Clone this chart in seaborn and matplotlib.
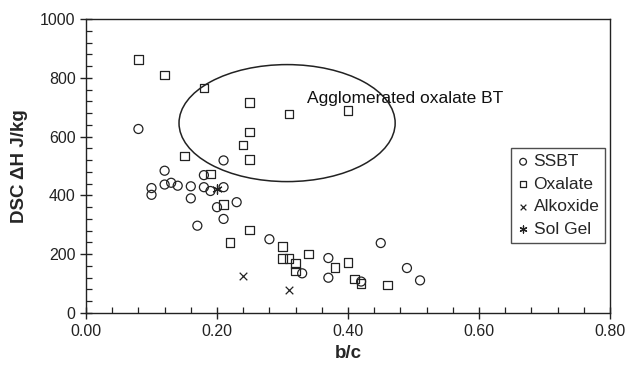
import matplotlib
matplotlib.use('Agg')
import matplotlib.pyplot as plt
import matplotlib.patches as mpatches
from matplotlib.ticker import MultipleLocator, FormatStrFormatter
import pandas as pd
import seaborn as sns

# values
ssbt_x = [0.08, 0.21, 0.12, 0.10, 0.10, 0.12, 0.13, 0.14, 0.16, 0.16, 0.18, 0.18, 0.19,
          0.21, 0.23, 0.20, 0.21, 0.17, 0.28, 0.37, 0.37, 0.33, 0.45, 0.42, 0.49, 0.51]
ssbt_y = [626, 519, 484, 425, 402, 437, 443, 433, 431, 390, 469, 428, 415,
          428, 377, 360, 320, 297, 251, 187, 120, 135, 238, 107, 153, 111]

oxalate_x = [0.08, 0.12, 0.18, 0.25, 0.25, 0.24, 0.25, 0.15, 0.19, 0.21, 0.31, 0.40, 0.25,
             0.22, 0.30, 0.30, 0.31, 0.32, 0.32, 0.34, 0.38, 0.40, 0.41, 0.42, 0.46]
oxalate_y = [862, 810, 766, 717, 616, 572, 523, 534, 473, 370, 677, 688, 283,
             240, 226, 186, 186, 169, 143, 201, 154, 172, 116, 101, 96]

alkoxide_x = [0.24, 0.31]
alkoxide_y = [125, 78]

solgel_x = [0.20]
solgel_y = [422]

methods = ['SSBT', 'Oxalate', 'Alkoxide', 'Sol Gel']

df = pd.concat([
    pd.DataFrame({'b/c': ssbt_x, 'dH': ssbt_y, 'Method': 'SSBT'}),
    pd.DataFrame({'b/c': oxalate_x, 'dH': oxalate_y, 'Method': 'Oxalate'}),
    pd.DataFrame({'b/c': alkoxide_x, 'dH': alkoxide_y, 'Method': 'Alkoxide'}),
    pd.DataFrame({'b/c': solgel_x, 'dH': solgel_y, 'Method': 'Sol Gel'}),
], ignore_index=True)

sns.set_style('ticks')
plt.rcParams['font.family'] = ['Liberation Sans', 'DejaVu Sans']

fig = plt.figure(figsize=(6.39, 3.66), dpi=100)
ax = fig.add_axes([0.1346, 0.1448, 0.82, 0.8032])

ink = '#222222'
styles = {
    'SSBT': dict(marker='o', s=42, facecolor='none', edgecolor=ink, linewidth=0.9),
    'Oxalate': dict(marker='s', s=38, facecolor='none', edgecolor=ink, linewidth=0.9),
    'Alkoxide': dict(marker='x', s=30, color=ink, linewidth=0.9),
    'Sol Gel': dict(marker=(6, 2, 0), s=45, color=ink, linewidth=0.9),
}
for m in methods:
    sns.scatterplot(data=df[df['Method'] == m], x='b/c', y='dH', ax=ax, label=m, **styles[m])

# ellipse around agglomerated oxalate samples
ax.add_patch(mpatches.Ellipse((0.307, 646), 0.330, 398, fill=False, edgecolor=ink, linewidth=1.1))
ax.text(0.337, 730, 'Agglomerated oxalate BT', fontsize=12.5, va='center', ha='left', color='#111111')

ax.set_xlim(0, 0.8)
ax.set_ylim(0, 1000)
ax.xaxis.set_major_locator(MultipleLocator(0.2))
ax.xaxis.set_minor_locator(MultipleLocator(0.04))
ax.yaxis.set_major_locator(MultipleLocator(200))
ax.yaxis.set_minor_locator(MultipleLocator(40))
ax.xaxis.set_major_formatter(FormatStrFormatter('%.2f'))
ax.tick_params(which='major', direction='inout', length=8, width=1, labelsize=11.5, colors=ink)
ax.tick_params(which='minor', direction='in', length=4, width=0.9, colors=ink)
ax.tick_params(axis='x', pad=4)
for sp in ax.spines.values():
    sp.set_color(ink)
    sp.set_linewidth(1)

ax.set_xlabel('b/c', fontsize=13.5, fontweight='bold', labelpad=4)
ax.set_ylabel('DSC \u0394H J/kg', fontsize=13.5, fontweight='bold', labelpad=9)

leg = ax.legend(loc='upper left', bbox_to_anchor=(0.811, 0.561), borderaxespad=0,
                fontsize=12.5, frameon=True, fancybox=False, edgecolor=ink,
                handletextpad=0.25, labelspacing=0.42, markerscale=0.75, handlelength=0.7,
                borderpad=0.35)
leg.get_frame().set_linewidth(1)

fig.savefig('out.png', dpi=100)
